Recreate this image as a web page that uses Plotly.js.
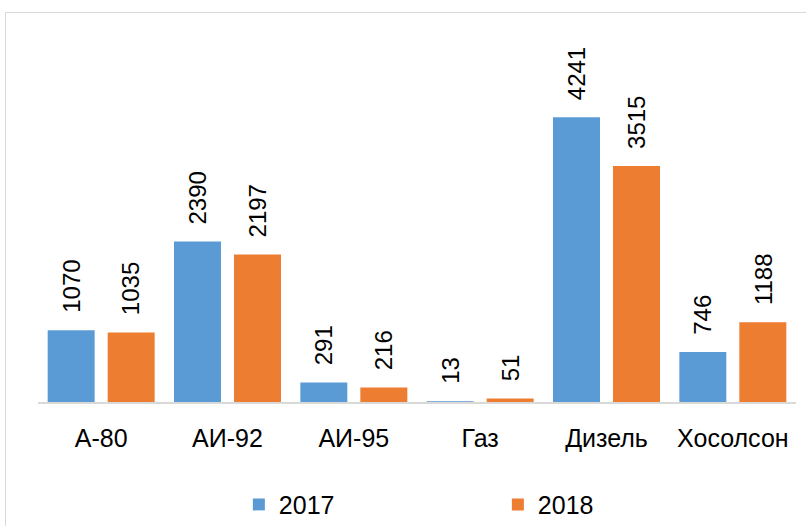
<!DOCTYPE html>
<html>
<head>
<meta charset="utf-8">
<script src="https://cdn.plot.ly/plotly-3.0.1.min.js"></script>
<style>
  body { margin: 0; background: #fff; }
  #chart { position: absolute; left: 0; top: 0; width: 806px; height: 526px; }
  #frame { position: absolute; left: 5px; top: 12px; width: 820px; height: 540px;
           border: 1.5px solid #d9d9d9; pointer-events: none; }
</style>
</head>
<body>
<div id="chart"></div>
<div id="frame"></div>
<script>
const categories = ["А-80", "АИ-92", "АИ-95", "Газ", "Дизель", "Хосолсон"];
const values2017 = [1070, 2390, 291, 13, 4241, 746];
const values2018 = [1035, 2197, 216, 51, 3515, 1188];
const seriesNames = ["2017", "2018"];

const blue = "#5B9BD5";
const orange = "#ED7D31";
const font = "Arial, 'Liberation Sans', sans-serif";

const traces = [
  {x: categories, y: values2017, name: seriesNames[0], type: "bar",
   marker: {color: blue}, hoverinfo: "none"},
  {x: categories, y: values2018, name: seriesNames[1], type: "bar",
   marker: {color: orange}, hoverinfo: "none"}
];

// value labels, rotated, sitting above each bar
var annotations = [];
function addLabels(vals, shift) {
  for (var i = 0; i < categories.length; ++i) {
    annotations.push({
      x: categories[i], y: vals[i], xref: "x", yref: "y",
      text: String(vals[i]), showarrow: false, textangle: -90,
      xanchor: "center", yanchor: "bottom", xshift: shift, yshift: 15,
      font: {family: font, size: 24, color: "#000"}
    });
  }
}
addLabels(values2017, -30);
addLabels(values2018, 30);

const layout = {
  width: 806,
  height: 526,
  margin: {l: 38, r: 10, t: 40, b: 124, autoexpand: false},
  paper_bgcolor: "#fff",
  plot_bgcolor: "#fff",
  font: {family: font, size: 24, color: "#000"},
  barmode: "group",
  bargap: 0.05,
  bargroupgap: 0.217,
  showlegend: true,
  legend: {
    orientation: "h", x: 0.265, xanchor: "left", y: -0.22, yanchor: "top",
    entrywidth: 214, entrywidthmode: "pixels",
    font: {family: font, size: 25, color: "#000"}
  },
  xaxis: {
    showline: true, linecolor: "#d9d9d9", linewidth: 1.5,
    ticks: "", ticklabelstandoff: 13,
    tickfont: {family: font, size: 25, color: "#000"},
    showgrid: false, zeroline: false, fixedrange: true
  },
  yaxis: {
    range: [0, 5390], visible: false, showgrid: false, zeroline: false, fixedrange: true
  },
  annotations: annotations
};

Plotly.newPlot("chart", traces, layout, {displayModeBar: false, staticPlot: true});
</script>
</body>
</html>
